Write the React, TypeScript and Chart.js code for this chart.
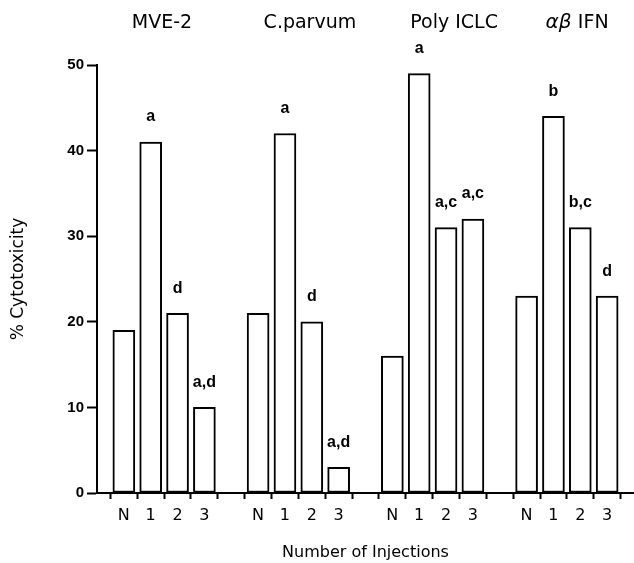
import React, { useEffect, useRef } from 'react';
import { Chart, registerables } from 'chart.js';

Chart.register(...registerables);

const groupNames = ['MVE-2', 'C.parvum', 'Poly ICLC', 'IFN'];
const groupPrefixItalic = ['', '', '', 'αβ '];
const injections = ['N', '1', '2', '3'];
const mve2 = [19, 41, 21, 10];
const cParvum = [21, 42, 20, 3];
const polyIclc = [16, 49, 31, 32];
const abIfn = [23, 44, 31, 23];
const mve2Sig = ['', 'a', 'd', 'a,d'];
const cParvumSig = ['', 'a', 'd', 'a,d'];
const polyIclcSig = ['', 'a', 'a,c', 'a,c'];
const abIfnSig = ['', 'b', 'b,c', 'd'];
const yMin = 0;
const yMax = 50;
const yStep = 10;

// layout (category-index positions of the group headings)
const TITLE_POS = [2.42, 7.93, 13.3, 17.88];

const seriesList = [mve2, cParvum, polyIclc, abIfn];
const sigList = [mve2Sig, cParvumSig, polyIclcSig, abIfnSig];

const labels: string[] = [];
const values: (number | null)[] = [];
const sigs: string[] = [];
seriesList.forEach((s, gi) => {
  labels.push('');
  values.push(null);
  sigs.push('');
  injections.forEach((inj, i) => {
    labels.push(inj);
    values.push(s[i]);
    sigs.push(sigList[gi][i]);
  });
});
labels.push('');
values.push(null);
sigs.push('');

const annotPlugin = {
  id: 'annot',
  beforeDraw(chart: any) {
    const { ctx } = chart;
    ctx.save();
    ctx.fillStyle = '#fff';
    ctx.fillRect(0, 0, chart.width, chart.height);
    ctx.restore();
  },
  afterDatasetsDraw(chart: any) {
    const { ctx } = chart;
    const meta = chart.getDatasetMeta(0);
    ctx.save();
    ctx.fillStyle = '#000';
    ctx.textAlign = 'center';
    ctx.textBaseline = 'middle';
    ctx.font = 'bold 16px "Liberation Sans"';
    meta.data.forEach((bar: any, i: number) => {
      if (!sigs[i] || values[i] == null) return;
      ctx.fillText(sigs[i], bar.x, bar.y - 25);
    });
    // group headings
    const xs = chart.scales.x;
    groupNames.forEach((name, gi) => {
      const cx = xs.getPixelForValue(TITLE_POS[gi]);
      const pre = groupPrefixItalic[gi];
      ctx.font = 'italic 20px "DejaVu Sans"';
      const wPre = pre ? ctx.measureText(pre).width : 0;
      ctx.font = '19px "DejaVu Sans"';
      const wName = ctx.measureText(name).width;
      const left = cx - (wPre + wName) / 2;
      ctx.textAlign = 'left';
      if (pre) {
        ctx.font = 'italic 20px "DejaVu Sans"';
        ctx.fillText(pre, left, 23);
      }
      ctx.font = '19px "DejaVu Sans"';
      ctx.fillText(name, left + wPre, 23);
    });
    ctx.restore();
  },
};

export default function App() {
  const ref = useRef<HTMLCanvasElement>(null);
  useEffect(() => {
    if (!ref.current) return;
    const chart = new Chart(ref.current, {
      type: 'bar',
      data: {
        labels,
        datasets: [
          {
            data: values,
            backgroundColor: '#fff',
            borderColor: '#000',
            borderWidth: 2,
            borderSkipped: false,
            barThickness: 22,
          },
        ],
      },
      options: {
        responsive: false,
        animation: false,
        layout: { padding: { left: 0, right: 0, top: 65, bottom: 0 } },
        plugins: {
          legend: { display: false },
          tooltip: { enabled: false },
        },
        scales: {
          x: {
            type: 'category',
            offset: false,
            afterFit: (s: any) => {
              s.height = 70;
              s.paddingRight = 0;
              s.paddingLeft = 0;
            },
            border: { display: true, color: '#000', width: 2 },
            grid: {
              display: true,
              drawOnChartArea: false,
              drawTicks: true,
              tickLength: 6,
              tickColor: '#000',
              tickWidth: 2,
            },
            ticks: {
              color: '#000',
              font: { family: 'DejaVu Sans', size: 16 },
              padding: 7,
              maxRotation: 0,
              autoSkip: false,
            },
            title: {
              display: true,
              text: 'Number of Injections',
              color: '#000',
              font: { family: 'DejaVu Sans', size: 16 },
              padding: { top: 4, bottom: 1 },
            },
          },
          y: {
            min: yMin,
            max: yMax,
            afterFit: (s: any) => {
              s.width = 97;
            },
            border: { display: true, color: '#000', width: 2 },
            grid: {
              display: true,
              drawOnChartArea: false,
              drawTicks: true,
              tickLength: 10,
              tickColor: '#000',
              tickWidth: 2,
            },
            ticks: {
              stepSize: yStep,
              color: '#000',
              font: { family: 'Liberation Sans', size: 15, weight: 'bold' },
              padding: 3,
            },
            title: {
              display: true,
              text: '% Cytotoxicity',
              color: '#000',
              font: { family: 'DejaVu Sans', size: 17 },
              padding: { top: 8, bottom: 0 },
            },
          },
        },
      },
      plugins: [annotPlugin],
    } as any);
    return () => chart.destroy();
  }, []);
  return (
    <div style={{ position: 'absolute', left: 0, top: 0, width: 634, height: 563 }}>
      <canvas ref={ref} width={634} height={563} style={{ display: 'block' }} />
    </div>
  );
}
